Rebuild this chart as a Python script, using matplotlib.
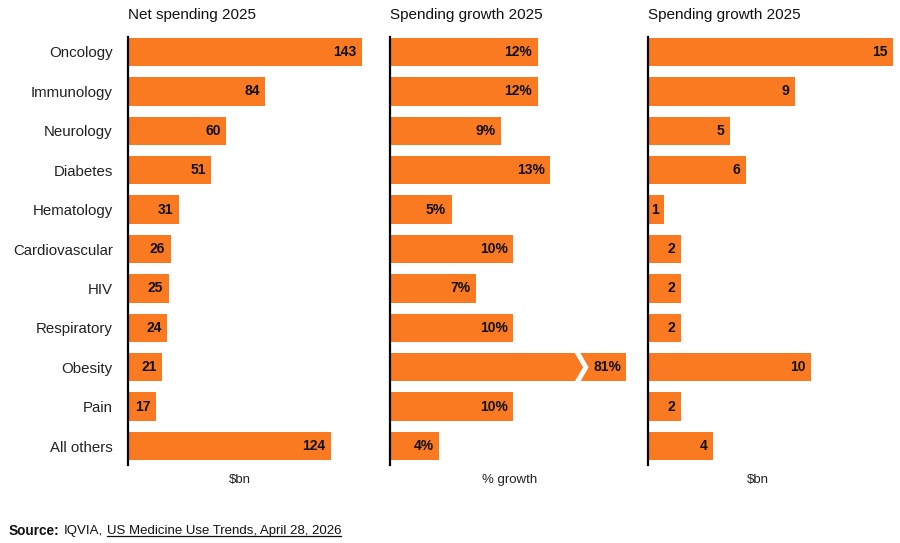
import matplotlib.pyplot as plt
from matplotlib.lines import Line2D

plt.rcParams['font.family'] = ['Liberation Sans', 'DejaVu Sans']

# data
categories = ["Oncology", "Immunology", "Neurology", "Diabetes", "Hematology",
              "Cardiovascular", "HIV", "Respiratory", "Obesity", "Pain", "All others"]
net_spending = [143, 84, 60, 51, 31, 26, 25, 24, 21, 17, 124]
growth_pct = [12, 12, 9, 13, 5, 10, 7, 10, 81, 10, 4]
growth_bn = [15, 9, 5, 6, 1, 2, 2, 2, 10, 2, 4]

titles = ["Net spending 2025", "Spending growth 2025", "Spending growth 2025"]
units = ["$bn", "% growth", "$bn"]
growth_cap = 19.2   # obesity bar is cut off in the middle panel

orange = "#F97A20"

fig = plt.figure(figsize=(9, 5.43), dpi=100)
W, H = 900, 543

def px_axes(x0, x1, y0=37, y1=465):
    return fig.add_axes([x0 / W, (H - y1) / H, (x1 - x0) / W, (y1 - y0) / H])

ax1 = px_axes(128, 380)
ax2 = px_axes(390, 640)
ax3 = px_axes(648, 900)
axes = [ax1, ax2, ax3]
xlims = [154, 20.3, 15.43]

rows = list(range(len(categories)))

for i, ax in enumerate(axes):
    ax.set_xlim(0, xlims[i])
    ax.set_ylim(10.48, -0.38)
    for s in ["top", "right", "bottom"]:
        ax.spines[s].set_visible(False)
    ax.spines["left"].set_linewidth(1.6)
    ax.spines["left"].set_color("black")
    ax.set_xticks([])
    ax.tick_params(axis="y", length=0)
    if i == 0:
        ax.set_yticks(rows)
        ax.set_yticklabels(categories, fontsize=10.8, color="#222222")
        ax.tick_params(axis="y", pad=11)
    else:
        ax.set_yticks([])
    ax.text(0, 1.0 + 15 / 428, titles[i], transform=ax.transAxes,
            ha="left", va="bottom", fontsize=11, color="#111111")

# panel 1
ax1.barh(rows, net_spending, height=0.72, color=orange)
for r, v in zip(rows, net_spending):
    ax1.annotate(str(v), (v, r), xytext=(-4, 0), textcoords="offset points",
                 ha="right", va="center", fontsize=10, fontweight="bold", color="#111111")

# panel 2 (obesity capped with a break mark)
shown = [min(v, growth_cap) for v in growth_pct]
ax2.barh(rows, shown, height=0.72, color=orange)
for r, v in zip(rows, growth_pct):
    ax2.annotate(f"{v}%", (min(v, growth_cap), r), xytext=(-4, 0), textcoords="offset points",
                 ha="right", va="center", fontsize=10, fontweight="bold", color="#111111")
ob = categories.index("Obesity")
bx = 15.2
ax2.add_line(Line2D([bx, bx + 0.7, bx], [ob - 0.38, ob, ob + 0.38],
                    color="white", linewidth=3.5, solid_joinstyle="miter"))

# panel 3
ax3.barh(rows, growth_bn, height=0.72, color=orange)
for r, v in zip(rows, growth_bn):
    ax3.annotate(str(v), (v, r), xytext=(-4, 0), textcoords="offset points",
                 ha="right", va="center", fontsize=10, fontweight="bold", color="#111111")

# unit labels under each panel
for x, u in zip([240, 510, 758], units):
    fig.text(x / W, (H - 480) / H, u, ha="center", va="center", fontsize=9.5, color="#222222")

# source line
src1 = fig.text(9 / W, (H - 531) / H, "Source:", ha="left", va="center",
                fontsize=9.8, fontweight="bold", color="#111111")
fig.canvas.draw()
r = fig.canvas.get_renderer()
bb = src1.get_window_extent(r)
src2 = fig.text(bb.x1 / W + 4 / W, (H - 531) / H, "IQVIA,", ha="left", va="center",
                fontsize=9.5, color="#111111")
bb2 = src2.get_window_extent(r)
src3 = fig.text(bb2.x1 / W + 4 / W, (H - 531) / H, "US Medicine Use Trends, April 28, 2026",
                ha="left", va="center", fontsize=9.5, color="#111111")
bb3 = src3.get_window_extent(r)
fig.add_artist(Line2D([bb3.x0 / W, bb3.x1 / W], [(bb3.y0 + 1) / H, (bb3.y0 + 1) / H],
                      transform=fig.transFigure, color="#111111", linewidth=0.9))

fig.savefig("out.png", dpi=100)
